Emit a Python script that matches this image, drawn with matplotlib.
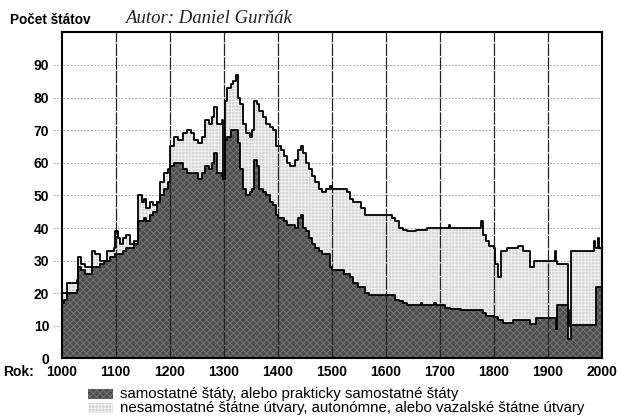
import matplotlib
matplotlib.use("Agg")
import matplotlib.pyplot as plt
import matplotlib.transforms as mtransforms
from matplotlib.patches import Rectangle

# rok, pocet statov spolu (horna ciara), samostatne staty (tmava plocha)
roky = [1000, 1005, 1009, 1020, 1028, 1031, 1036, 1043, 1050, 1056, 1062, 1071, 1078,
        1083, 1090, 1096, 1099, 1104, 1108, 1113, 1120, 1127, 1133, 1142, 1148, 1152,
        1157, 1163, 1170, 1176, 1182, 1190, 1197, 1200, 1208, 1216, 1224, 1232, 1240,
        1245, 1252, 1260, 1266, 1272, 1278, 1283, 1287, 1293, 1297, 1299, 1302, 1307,
        1313, 1318, 1322, 1326, 1330, 1336, 1341, 1349, 1353, 1357, 1362, 1366, 1372,
        1378, 1385, 1392, 1397, 1400, 1406, 1411, 1417, 1423, 1432, 1438, 1443, 1447,
        1452, 1458, 1464, 1470, 1476, 1482, 1490, 1497, 1500, 1510, 1522, 1528, 1534,
        1540, 1548, 1555, 1562, 1570, 1580, 1598, 1605, 1612, 1618, 1625, 1632, 1640,
        1650, 1657, 1665, 1668, 1676, 1690, 1693, 1700, 1710, 1717, 1720, 1740, 1756,
        1770, 1777, 1780, 1785, 1792, 1800, 1803, 1808, 1813, 1818, 1825, 1836, 1845,
        1855, 1864, 1867, 1872, 1875, 1879, 1900, 1913, 1916, 1918, 1937, 1940, 1944,
        1986, 1988, 1990, 1993, 1996, 2000]
spolu = [20, 20, 23, 23, 24, 31, 29, 28, 28, 33, 32, 30, 30,
         33, 33, 34, 39, 37, 35, 37, 38, 35, 36, 50, 48, 49,
         46, 48, 47, 48, 54, 57, 58, 65, 68, 67, 69, 70, 69,
         67, 66, 68, 73, 72, 74, 77, 72, 72, 73, 55, 79, 83,
         84, 85, 87, 80, 78, 72, 69, 68, 70, 79, 78, 76, 74,
         72, 71, 70, 65, 65, 64, 62, 60, 59, 61, 64, 65, 63,
         60, 58, 56, 54, 52, 51, 52, 53, 52, 52, 52, 51, 49,
         48, 48, 46, 44, 44, 44, 44, 44, 43, 42, 40, 39.5, 39,
         39, 39.5, 39.5, 39.5, 40, 40, 40, 40, 40, 41, 40, 40, 40,
         40, 42, 38, 36, 34.5, 34, 29, 25, 33, 33, 34, 34, 34.5,
         33, 33, 28, 28, 30, 30, 30, 33, 30, 29, 15, 10, 33,
         36, 34, 34, 37, 34, 35]
samostatne = [17, 18, 20, 20, 21, 28, 27, 26, 26, 28, 28, 29, 30,
              30, 31, 31, 32, 32, 32, 33, 34, 34, 35, 42, 42, 43,
              42, 44, 45, 48, 50, 52, 54, 59, 60, 60, 58, 57, 57,
              57, 55, 57, 59, 58, 60, 63, 57, 57, 56, 55, 67, 68,
              70, 70, 70, 66, 58, 52, 50, 51, 52, 61, 59, 52, 51,
              50, 48, 47, 44, 43, 43, 42, 41, 41, 40, 43, 44, 40,
              39, 37, 35, 34, 33, 32, 32, 28, 27, 27, 26, 26, 25,
              23, 22, 22, 20, 19.5, 19.5, 19.5, 19.5, 19.5, 18, 17.5, 17, 16.4,
              16.4, 16.4, 17, 16.4, 16.4, 17, 16.4, 16.4, 15.5, 15.5, 15.2, 15, 15,
              15, 15, 14, 13, 13, 12.7, 12.7, 11.8, 11.8, 11, 11, 11.8, 11.8,
              11.8, 11.8, 10.6, 10.6, 10.6, 12.4, 12.4, 12.4, 9, 16.4, 6, 6, 10.3,
              10.3, 10.3, 22, 22, 22, 22]

x_ticky = list(range(1000, 2001, 100))
y_ticky = list(range(0, 91, 10))
popisy = ["samostatné štáty, alebo prakticky samostatné štáty",
          "nesamostatné štátne útvary, autonómne, alebo vazalské štátne útvary"]

plt.rcParams['font.family'] = ['Liberation Sans', 'DejaVu Sans']
plt.rcParams['hatch.linewidth'] = 0.7

tmava = dict(facecolor='#4e4e4e', edgecolor='#727272', hatch='xxxxx')
svetla = dict(facecolor='#d2d2d2', edgecolor='#f2f2f2', hatch='+++++')

fig = plt.figure(figsize=(6.17, 4.19), dpi=100)
ax = fig.add_axes([0.100, 0.1444, 0.875, 0.7785])

# plochy
ax.fill_between(roky, samostatne, spolu, step='post', linewidth=0, zorder=2, **svetla)
ax.fill_between(roky, 0, samostatne, step='post', linewidth=0, zorder=2, **tmava)
ax.step(roky, spolu, where='post', color='black', lw=1.3, zorder=4)
ax.step(roky, samostatne, where='post', color='black', lw=1.3, zorder=4)

ax.set_xlim(1000, 2000)
ax.set_ylim(0, 100)
ax.set_xticks(x_ticky)
ax.set_yticks(y_ticky)
ax.tick_params(length=0, labelsize=10)
ax.tick_params(axis='x', pad=5)
ax.tick_params(axis='y', pad=9)
for t in ax.get_xticklabels() + ax.get_yticklabels():
    t.set_fontweight('bold')

# mriezka
for r in x_ticky[1:-1]:
    ax.axvline(r, color='#222222', lw=0.9, ls=(0, (10, 1)), zorder=3)
trans = mtransforms.blended_transform_factory(ax.transAxes, ax.transData)
for v in y_ticky[1:]:
    ax.plot([-0.017, 1], [v, v], transform=trans, color='#aaaaaa', lw=0.7,
            ls=(0, (2, 1.5)), zorder=1, clip_on=False)

for s in ax.spines.values():
    s.set_linewidth(1.5)
    s.set_color('black')
    s.set_zorder(5)

fig.text(0.016, 0.952, "Počet štátov", fontsize=9.8, fontweight='bold', va='center')
fig.text(0.203, 0.957, "Autor: Daniel Gurňák", fontsize=13.5, style='italic',
         family='Liberation Serif', color='#222222', va='center')
fig.text(0.005, 0.112, "Rok:", fontsize=10, fontweight='bold', va='center')

# legenda
for i, (styl, popis) in enumerate(zip([tmava, svetla], popisy)):
    yc = 1 - (393.5 + 14 * i) / 419
    fig.patches.append(Rectangle((88 / 617, yc - 5 / 419), 25 / 617, 10 / 419,
                                 transform=fig.transFigure, lw=0, **styl))
    fig.text(120 / 617, yc, popis, fontsize=10.8, va='center')

fig.savefig("out.png", dpi=100)
